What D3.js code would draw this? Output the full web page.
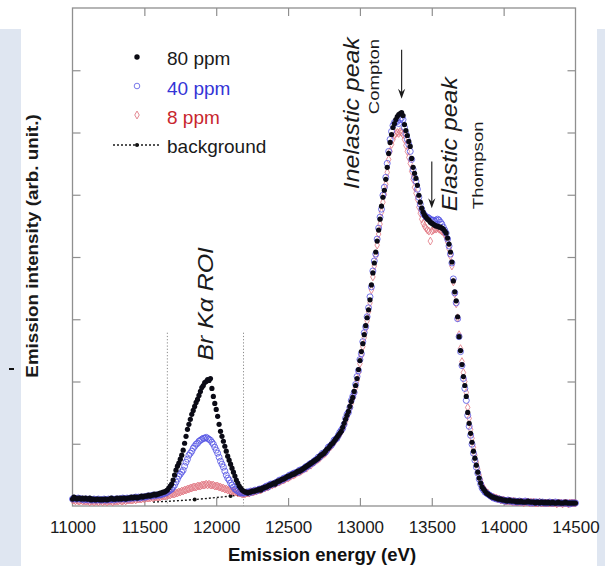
<!DOCTYPE html>
<html>
<head>
<meta charset="utf-8">
<script src="https://cdn.jsdelivr.net/npm/d3@7"></script>
<style>
html, body { margin: 0; padding: 0; background: #ffffff; }
svg { display: block; font-family: "Liberation Sans", Arial, Helvetica, sans-serif; }
</style>
</head>
<body>
<svg id="chart" width="605" height="566"></svg>
<script>
// Detector channels: 10 eV wide, starting at 11000 eV
const energyStart = 11000;
const channelWidth = 10;

// Emission intensity per channel (arb. unit), 11000 .. 14500 eV
const ppm80 = [
  7, 9, 8, 7, 8, 8, 7, 8, 7, 8,
  7, 7, 8, 6, 7, 7, 6, 7, 7, 6,
  7, 6, 7, 7, 6, 7, 7, 8, 7, 7,
  7, 8, 7, 8, 7, 8, 8, 7, 8, 8,
  8, 9, 8, 9, 9, 8, 9, 9, 10, 9,
  10, 10, 10, 11, 10, 11, 11, 12, 11, 12,
  12, 13, 13, 14, 14, 15, 16, 18, 20, 22,
  26, 31, 36, 40, 43, 47, 51, 56, 63, 70,
  77, 82, 87, 92, 96, 100, 104, 107, 111, 115,
  119, 121, 124, 125, 127, 126, 128, 118, 110, 103,
  97, 90, 82, 75, 70, 65, 60, 55, 50, 46,
  42, 38, 34, 30, 26, 23, 20, 18, 16, 15,
  14, 14, 13, 14, 14, 15, 15, 15, 16, 16,
  17, 16, 18, 18, 19, 19, 20, 21, 21, 22,
  23, 22, 24, 25, 25, 26, 27, 27, 28, 29,
  30, 30, 31, 32, 32, 33, 34, 35, 35, 36,
  37, 38, 39, 40, 41, 42, 43, 44, 45, 46,
  47, 48, 50, 51, 52, 53, 55, 57, 58, 60,
  62, 63, 65, 67, 69, 71, 73, 75, 79, 83,
  87, 91, 95, 100, 105, 109, 115, 121, 128, 137,
  146, 155, 163, 172, 181, 189, 197, 207, 222, 234,
  244, 255, 266, 277, 288, 301, 310, 317, 328, 340,
  354, 365, 373, 380, 384, 388, 391, 393, 394, 395,
  392, 383, 377, 372, 366, 361, 349, 340, 334, 329,
  322, 312, 305, 299, 295, 292, 290, 288, 287, 285,
  284, 283, 282, 281, 281, 280, 280, 279, 278, 276,
  274, 269, 263, 255, 245, 226, 215, 206, 190, 170,
  156, 142, 130, 121, 110, 94, 83, 73, 64, 55,
  48, 41, 34, 28, 23, 19, 17, 15, 13, 12,
  11, 10, 9, 9, 8, 8, 7, 7, 7, 6,
  6, 6, 5, 5, 6, 5, 5, 5, 5, 4,
  5, 4, 5, 4, 4, 4, 4, 5, 4, 4,
  4, 4, 3, 4, 4, 3, 4, 4, 3, 4,
  3, 4, 3, 3, 4, 3, 3, 3, 4, 3,
  3, 3, 3, 4, 3, 3, 3, 3, 3, 3,
  3
];

const ppm40 = [
  7, 8, 7, 7, 8, 7, 7, 7, 6, 7,
  7, 6, 7, 6, 6, 7, 6, 6, 7, 6,
  6, 6, 7, 6, 6, 7, 6, 7, 7, 6,
  7, 7, 7, 7, 7, 8, 7, 7, 8, 7,
  8, 8, 8, 8, 9, 8, 9, 8, 9, 9,
  9, 9, 10, 10, 10, 10, 11, 10, 11, 11,
  11, 11, 12, 12, 13, 13, 14, 15, 16, 17,
  19, 21, 24, 27, 30, 32, 34, 36, 40, 44,
  47, 51, 53, 55, 58, 60, 62, 63, 65, 66,
  67, 68, 68, 69, 68, 67, 66, 64, 62, 59,
  56, 53, 49, 45, 42, 39, 35, 31, 28, 26,
  23, 21, 19, 17, 16, 15, 14, 13, 13, 13,
  13, 14, 14, 13, 15, 14, 15, 16, 15, 16,
  17, 17, 17, 18, 19, 20, 19, 21, 22, 22,
  22, 23, 24, 24, 26, 26, 26, 28, 28, 29,
  29, 31, 31, 32, 33, 33, 34, 34, 36, 36,
  37, 37, 39, 40, 40, 42, 43, 43, 45, 46,
  47, 49, 49, 51, 53, 53, 54, 56, 59, 60,
  61, 63, 66, 67, 68, 71, 74, 76, 78, 82,
  88, 92, 94, 99, 106, 110, 114, 122, 130, 136,
  147, 153, 165, 174, 180, 190, 199, 210, 220, 236,
  246, 253, 268, 279, 290, 298, 312, 320, 330, 344,
  356, 368, 376, 382, 385, 386, 386, 384, 388, 390,
  388, 380, 374, 368, 363, 356, 348, 338, 330, 326,
  318, 310, 303, 298, 294, 292, 290, 290, 289, 288,
  287, 287, 286, 287, 288, 287, 285, 283, 280, 277,
  274, 268, 261, 253, 244, 228, 214, 204, 188, 170,
  155, 141, 128, 118, 106, 91, 80, 71, 62, 53,
  46, 39, 33, 27, 22, 18, 16, 14, 13, 12,
  11, 10, 9, 8, 8, 7, 7, 7, 6, 6,
  6, 5, 5, 6, 5, 5, 5, 4, 5, 4,
  4, 5, 4, 4, 4, 5, 4, 4, 4, 3,
  4, 3, 4, 4, 3, 4, 3, 4, 3, 3,
  3, 3, 4, 3, 3, 3, 4, 3, 3, 3,
  3, 3, 3, 3, 3, 3, 2, 3, 3, 3,
  3
];

const ppm8 = [
  6, 6, 5, 6, 5, 5, 6, 5, 5, 5,
  5, 5, 4, 5, 5, 4, 5, 5, 4, 5,
  5, 4, 5, 5, 4, 5, 5, 5, 4, 5,
  5, 5, 5, 6, 5, 5, 6, 5, 6, 6,
  6, 6, 6, 7, 6, 7, 7, 7, 7, 8,
  7, 8, 8, 8, 8, 9, 8, 9, 9, 9,
  9, 9, 10, 10, 10, 10, 11, 11, 11, 12,
  12, 12, 13, 13, 14, 14, 15, 15, 16, 16,
  17, 17, 18, 18, 19, 19, 19, 20, 20, 20,
  21, 21, 21, 22, 21, 22, 21, 21, 21, 20,
  20, 20, 19, 19, 18, 18, 17, 17, 16, 16,
  15, 15, 15, 14, 14, 13, 13, 13, 12, 12,
  12, 13, 13, 13, 14, 14, 14, 15, 15, 16,
  16, 16, 17, 18, 18, 19, 19, 20, 21, 21,
  22, 22, 23, 24, 24, 25, 26, 26, 27, 28,
  28, 29, 30, 31, 31, 32, 33, 34, 34, 35,
  36, 37, 38, 38, 40, 41, 41, 43, 44, 45,
  46, 47, 48, 50, 51, 52, 53, 55, 57, 59,
  60, 62, 64, 66, 68, 70, 72, 75, 77, 81,
  85, 89, 94, 98, 103, 108, 113, 119, 126, 134,
  143, 151, 160, 169, 178, 186, 195, 204, 217, 230,
  241, 251, 262, 273, 283, 295, 305, 313, 323, 335,
  348, 356, 363, 368, 372, 374, 375, 374, 376, 375,
  373, 368, 362, 356, 350, 344, 336, 328, 320, 314,
  308, 300, 294, 288, 284, 281, 279, 277, 276, 266,
  276, 277, 278, 278, 279, 278, 277, 276, 275, 273,
  270, 265, 258, 251, 241, 225, 213, 203, 189, 172,
  158, 145, 134, 125, 114, 99, 88, 77, 68, 59,
  51, 44, 37, 31, 26, 21, 18, 16, 14, 13,
  11, 10, 9, 9, 8, 8, 7, 7, 6, 6,
  6, 5, 5, 5, 5, 5, 4, 5, 4, 4,
  4, 4, 4, 4, 3, 4, 4, 4, 3, 4,
  3, 4, 3, 3, 3, 4, 3, 3, 3, 3,
  3, 3, 3, 3, 3, 3, 3, 2, 3, 3,
  3, 2, 3, 3, 3, 2, 3, 3, 3, 3,
  3
];

// Background under the Br K-alpha line
const bgEnergy = [11560, 11700, 11850, 12000, 12100, 12190];
const bgIntensity = [4, 5, 6.5, 8.5, 10, 11.5];
const bgMarked = [11850, 12100];

// Region of interest for Br K-alpha
const roiBounds = [11660, 12190];
const roiTop = 174;

const xTicks = [11000, 11500, 12000, 12500, 13000, 13500, 14000, 14500];
const yTicks = [0, 62.5, 125, 187.5, 250, 312.5, 375, 437.5, 500];

const seriesNames = ["80 ppm", "40 ppm", "8 ppm", "background"];

// ---------------------------------------------------------------
const svg = d3.select("#chart");
const W = 605, H = 566;
const plotL = 72.5, plotR = 575.5, plotT = 8, plotB = 506;

const x = d3.scaleLinear().domain([11000, 14500]).range([plotL, plotR]);
const y = d3.scaleLinear().domain([0, 500]).range([plotB, plotT]);

const energies = ppm80.map((_, i) => energyStart + i * channelWidth);

// page backdrop: white sheet with pale side panels
svg.append("rect").attr("x", 0).attr("y", 0).attr("width", W).attr("height", H).attr("fill", "#ffffff");
svg.append("rect").attr("x", 0).attr("y", 29).attr("width", 21).attr("height", H - 29).attr("fill", "#dfe6f1");
svg.append("rect").attr("x", 597).attr("y", 29).attr("width", 8).attr("height", H - 29).attr("fill", "#dfe6f1");
svg.append("rect").attr("x", 9).attr("y", 368).attr("width", 5).attr("height", 2).attr("fill", "#111");

// axes with inward ticks on all four sides
const axisColor = "#8f8f8f";
function styleAxis(g) {
  g.select(".domain").remove();
  g.selectAll(".tick line").attr("stroke", axisColor).attr("stroke-width", 1.2);
}
const innerX = xTicks.slice(1, -1);
const innerY = yTicks.slice(1, -1);

svg.append("g").attr("transform", `translate(0,${plotB})`)
  .call(d3.axisBottom(x).tickValues(innerX).tickSize(-8).tickSizeOuter(0).tickFormat(""))
  .call(styleAxis);
svg.append("g").attr("transform", `translate(0,${plotT})`)
  .call(d3.axisTop(x).tickValues(innerX).tickSize(-8).tickSizeOuter(0).tickFormat(""))
  .call(styleAxis);
svg.append("g").attr("transform", `translate(${plotL},0)`)
  .call(d3.axisLeft(y).tickValues(innerY).tickSize(-8).tickSizeOuter(0).tickFormat(""))
  .call(styleAxis);
svg.append("g").attr("transform", `translate(${plotR},0)`)
  .call(d3.axisRight(y).tickValues(innerY).tickSize(-8).tickSizeOuter(0).tickFormat(""))
  .call(styleAxis);

// tick labels along the bottom
const xl = svg.append("g").attr("transform", `translate(0,${plotB})`)
  .call(d3.axisBottom(x).tickValues(xTicks).tickSize(0).tickPadding(15).tickFormat(d3.format("d")));
xl.select(".domain").remove();
xl.selectAll("text").attr("font-size", 17).attr("fill", "#1a1a1a")
  .attr("font-family", '"Liberation Sans", Arial, sans-serif');

// frame
svg.append("rect").attr("x", plotL).attr("y", plotT).attr("width", plotR - plotL).attr("height", plotB - plotT)
  .attr("fill", "none").attr("stroke", axisColor).attr("stroke-width", 1.3);

// ROI boundaries
svg.append("g").selectAll("line").data(roiBounds).join("line")
  .attr("x1", d => x(d)).attr("x2", d => x(d))
  .attr("y1", y(roiTop)).attr("y2", plotB)
  .attr("stroke", "#8a8a8a").attr("stroke-width", 1).attr("stroke-dasharray", "1.2,2");

// background estimate
const bgPts = bgEnergy.map((e, i) => [e, bgIntensity[i]]);
svg.append("path")
  .attr("d", d3.line().x(d => x(d[0])).y(d => y(d[1])).curve(d3.curveMonotoneX)(bgPts))
  .attr("fill", "none").attr("stroke", "#1a1a1a").attr("stroke-width", 1.4).attr("stroke-dasharray", "2,2");
svg.append("g").selectAll("circle").data(bgPts.filter(d => bgMarked.includes(d[0]))).join("circle")
  .attr("cx", d => x(d[0])).attr("cy", d => y(d[1])).attr("r", 2).attr("fill", "#111");

// spectra: 8 ppm underneath, 80 ppm on top
const pts80 = energies.map((e, i) => [e, ppm80[i]]);
const pts40 = energies.map((e, i) => [e, ppm40[i]]);
const pts8 = energies.map((e, i) => [e, ppm8[i]]);

const diamond = d3.symbol().type(d3.symbolDiamond).size(18);
svg.append("g").selectAll("path").data(pts8).join("path")
  .attr("transform", d => `translate(${x(d[0])},${y(d[1])})`)
  .attr("d", diamond)
  .attr("fill", "none").attr("stroke", "#e0707c").attr("stroke-width", 0.9).attr("stroke-opacity", 0.85);

svg.append("g").selectAll("circle").data(pts40).join("circle")
  .attr("cx", d => x(d[0])).attr("cy", d => y(d[1])).attr("r", 3)
  .attr("fill", "none").attr("stroke", "#5252e4").attr("stroke-width", 0.95).attr("stroke-opacity", 0.85);

svg.append("g").selectAll("circle").data(pts80).join("circle")
  .attr("cx", d => x(d[0])).attr("cy", d => y(d[1])).attr("r", 2.6)
  .attr("fill", "#0b0b16");

// legend
const legend = svg.append("g");
const lgX = 137, lgText = 167;
legend.append("circle").attr("cx", lgX).attr("cy", 57).attr("r", 2.7).attr("fill", "#0b0b12");
legend.append("circle").attr("cx", lgX).attr("cy", 86).attr("r", 2.8)
  .attr("fill", "none").attr("stroke", "#6a6ae8").attr("stroke-width", 0.9);
legend.append("path").attr("transform", `translate(${lgX},115)`).attr("d", diamond)
  .attr("fill", "none").attr("stroke", "#e07a85").attr("stroke-width", 0.9);
legend.append("line").attr("x1", 113).attr("x2", 160).attr("y1", 145).attr("y2", 145)
  .attr("stroke", "#1a1a1a").attr("stroke-width", 1.4).attr("stroke-dasharray", "2,2");
legend.append("circle").attr("cx", lgX).attr("cy", 145).attr("r", 2).attr("fill", "#111");
const lgColors = ["#1a1a1a", "#3434d6", "#c8262e", "#1a1a1a"];
const lgBase = [65, 94.5, 123.5, 152.5];
legend.selectAll("text").data(seriesNames).join("text")
  .attr("x", lgText).attr("y", (d, i) => lgBase[i])
  .attr("font-size", 19).attr("fill", (d, i) => lgColors[i]).text(d => d);

// rotated annotations (baseline at bx, starting point at by)
function vText(txt, bx, by, size, anchor, stretch, opts = {}) {
  return svg.append("text")
    .attr("transform", `translate(${bx},${by}) rotate(-90) scale(${stretch},1)`)
    .attr("text-anchor", anchor)
    .attr("font-size", size)
    .attr("font-style", opts.italic ? "italic" : "normal")
    .attr("font-weight", opts.bold ? "bold" : "normal")
    .attr("fill", "#1a1a1a")
    .text(txt);
}

vText("Inelastic peak", x(12995), y(318), 22, "start", 1.13, { italic: true });
vText("Compton", x(13135), y(469), 15, "end", 1.24);
vText("Elastic peak", x(13676), y(296), 22, "start", 1.13, { italic: true });
vText("Thompson", x(13856), y(298), 15, "start", 1.24);
vText("Br K\u03b1 ROI", x(11980), y(146), 22, "start", 1.13, { italic: true });

// arrows to the two scattering peaks
function arrow(e, vFrom, vTo) {
  const ax = x(e), y0 = y(vFrom), y1 = y(vTo);
  svg.append("line").attr("x1", ax).attr("x2", ax).attr("y1", y0).attr("y2", y1 - 4)
    .attr("stroke", "#2a2a2a").attr("stroke-width", 1.2);
  svg.append("path")
    .attr("d", `M${ax},${y1} L${ax - 3.6},${y1 - 10} L${ax},${y1 - 6.5} L${ax + 3.6},${y1 - 10} Z`)
    .attr("fill", "#1a1a1a");
}
arrow(13290, 458, 409);
arrow(13500, 346, 299);

// axis titles
svg.append("text").attr("x", 322).attr("y", 561).attr("text-anchor", "middle")
  .attr("font-size", 18.5).attr("font-weight", "bold").attr("fill", "#111")
  .text("Emission energy (eV)");
vText("Emission intensity (arb. unit.)", 38, 246, 16.5, "middle", 1.14, { bold: true });
</script>
</body>
</html>
